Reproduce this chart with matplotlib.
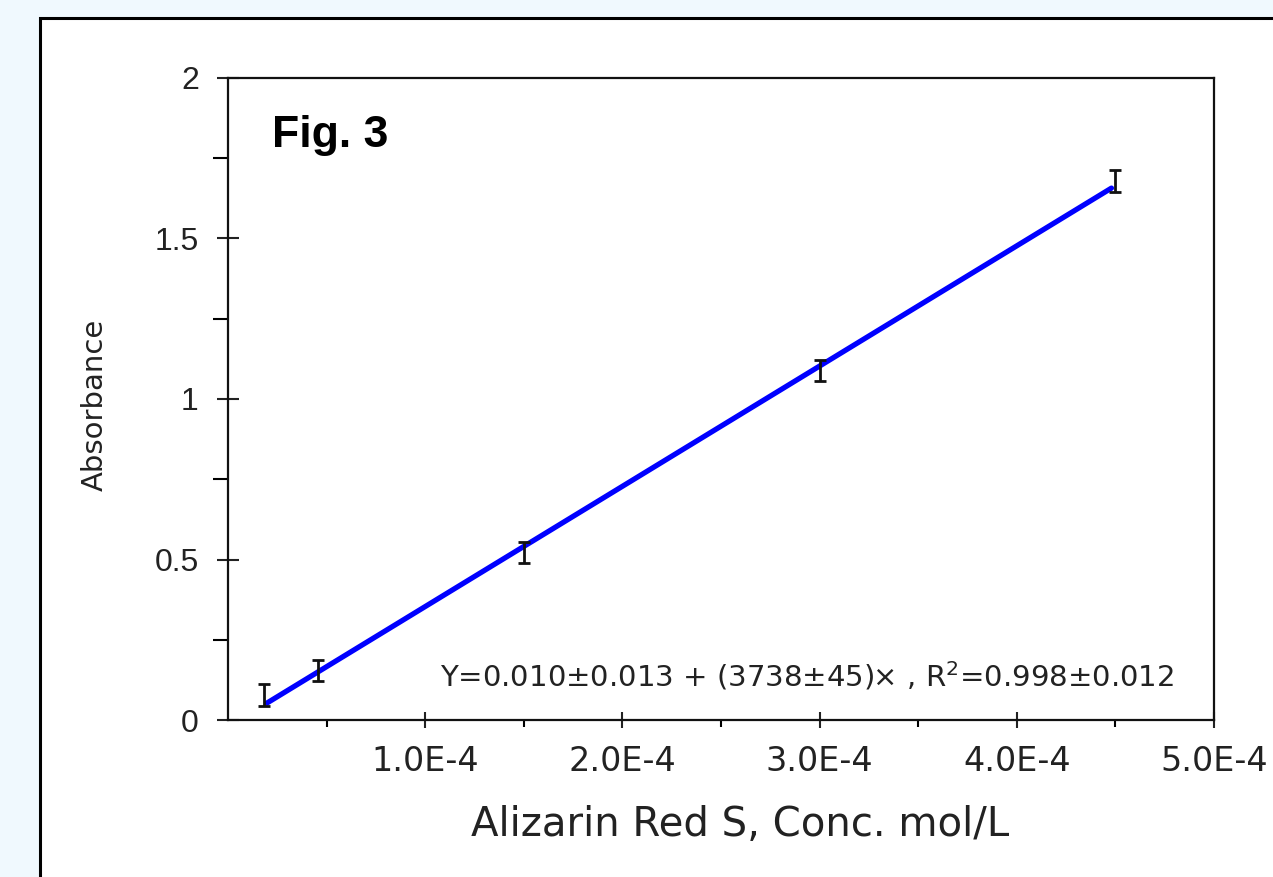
"""Calibration curve for Alizarin Red S absorbance."""

import matplotlib
matplotlib.use("Agg")
import matplotlib.pyplot as plt
from matplotlib.patches import Rectangle

plt.rcParams["font.family"] = ["DejaVu Sans"]
plt.rcParams["mathtext.fontset"] = "dejavusans"

# measured standards
conc = [1.85e-5, 4.55e-5, 1.5e-4, 3.0e-4, 4.5e-4]
absorb = [0.078, 0.153, 0.523, 1.09, 1.679]
absorb_err = [0.033, 0.033, 0.033, 0.033, 0.033]

# drawn regression line
fit_x = [1.98e-5, 4.48e-4]
fit_y = [0.053, 1.657]

x_ticks = [1.0e-4, 2.0e-4, 3.0e-4, 4.0e-4, 5.0e-4]
x_tick_labels = ["1.0E-4", "2.0E-4", "3.0E-4", "4.0E-4", "5.0E-4"]
x_minor = [0.5e-4, 1.5e-4, 2.5e-4, 3.5e-4, 4.5e-4]
y_ticks = [0, 0.5, 1, 1.5, 2]
y_tick_labels = ["0", "0.5", "1", "1.5", "2"]
y_minor = [0.25, 0.75, 1.25, 1.75]

W, H = 1273, 877
fig = plt.figure(figsize=(W / 100, H / 100), dpi=100)
fig.patch.set_facecolor("#F0F9FE")

# white panel with a black frame running off the right and bottom edges
panel = Rectangle((40 / W, -0.2), 1.2, (H - 18) / H + 0.2,
                  transform=fig.transFigure, facecolor="white",
                  edgecolor="black", linewidth=2.2, zorder=0)
fig.add_artist(panel)

ax = fig.add_axes([228 / W, 1 - 720 / H, (1214 - 228) / W, (720 - 78) / H])
ax.set_facecolor("white")
ax.set_zorder(1)

ax.plot(fit_x, fit_y, color="#0000FF", linewidth=3.8, solid_capstyle="round", zorder=2)
ax.errorbar(conc, absorb, yerr=absorb_err, fmt="none", ecolor="#111111",
            elinewidth=2.0, capsize=4.5, capthick=2.0, zorder=3)

ax.set_xlim(0, 5.0e-4)
ax.set_ylim(0, 2)

ax.set_xticks(x_ticks)
ax.set_xticklabels(x_tick_labels)
ax.set_xticks(x_minor, minor=True)
ax.set_yticks(y_ticks)
ax.set_yticklabels(y_tick_labels, family="Liberation Sans")
ax.set_yticks(y_minor, minor=True)

ax.tick_params(axis="x", which="major", direction="inout", length=12, width=1.5,
               pad=12, labelsize=24, colors="#222222")
ax.tick_params(axis="x", which="minor", direction="out", length=5, width=1.5)
ax.tick_params(axis="y", which="major", direction="inout", length=16, width=1.5,
               pad=13, labelsize=23, colors="#222222")
ax.tick_params(axis="y", which="minor", direction="out", length=11, width=1.5)

for side in ax.spines.values():
    side.set_linewidth(1.6)
    side.set_color("#111111")

# axis titles placed in figure coordinates
fig.text(740 / W, 1 - 825 / H, "Alizarin Red S, Conc. mol/L", fontsize=29,
         color="#222222", ha="center", va="center")
fig.text(95 / W, 1 - 405 / H, "Absorbance", fontsize=21, rotation=90,
         color="#222222", ha="center", va="center")

ax.text(0.045, 0.91, "Fig. 3", transform=ax.transAxes, fontsize=32,
        fontweight="bold", family="Liberation Sans",
        ha="left", va="center", color="black")
ax.text(1.075e-4, 0.137,
        "Y=0.010±0.013 + (3738±45)× , R$^{2}$=0.998±0.012",
        fontsize=21, ha="left", va="center", color="#222222")

fig.savefig("out.png", dpi=100, facecolor=fig.get_facecolor())
